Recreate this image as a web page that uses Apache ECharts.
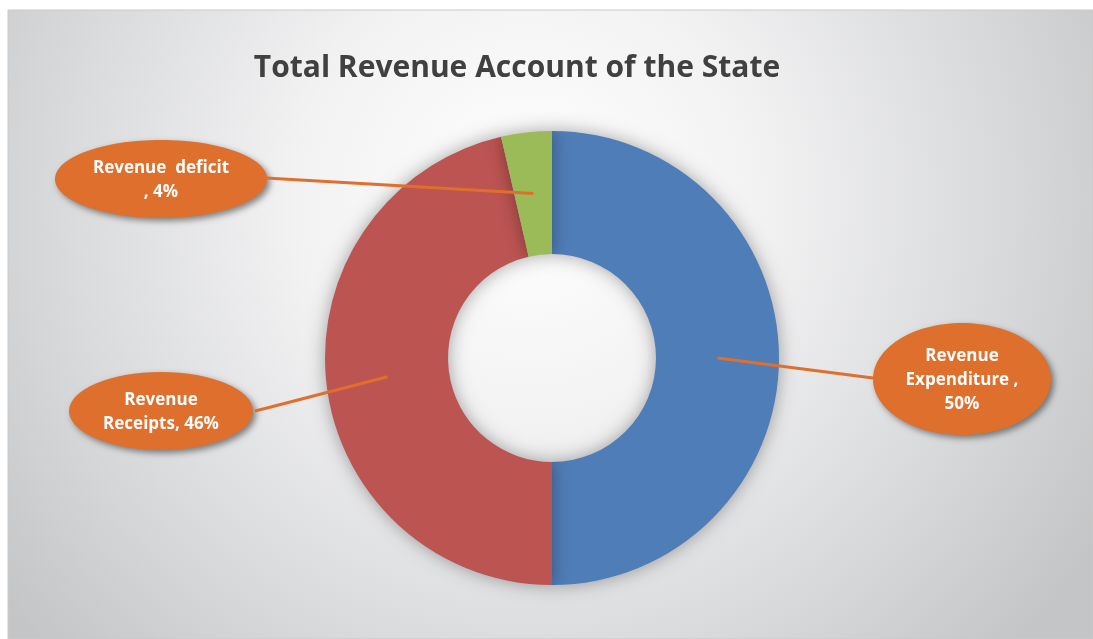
<!DOCTYPE html>
<html>
<head>
<meta charset="utf-8">
<script src="https://cdn.jsdelivr.net/npm/echarts@6/dist/echarts.min.js"></script>
<style>
html,body{margin:0;padding:0;background:#ffffff;}
#chart{width:1093px;height:639px;}
</style>
</head>
<body>
<div id="chart"></div>
<script>
// ---- data ----
const categories = ['Revenue Expenditure', 'Revenue Receipts', 'Revenue deficit'];
const values = [50, 46.4, 3.6];
const labelTemplates = ['Revenue\nExpenditure ,\n{p}%', 'Revenue\nReceipts, {p}%', 'Revenue  deficit\n, {p}%'];
const colors = ['#4f7db7', '#bc5452', '#9bbb59'];
const titleText = 'Total Revenue Account of the State';

// ---- layout ----
const CX = 552, CY = 358, R_IN = 104, R_OUT = 227;
const bubbles = [
  { cx: 962, cy: 379, rx: 89, ry: 56, line: [[873, 378]] },
  { cx: 161, cy: 411, rx: 92, ry: 39, line: [[267, 408], [255, 411]] },
  { cx: 161, cy: 179, rx: 106, ry: 39, line: [[266, 178]] }
];
const ORANGE = '#df6f2c';

const chart = echarts.init(document.getElementById('chart'), null, { renderer: 'canvas' });

const graphics = [
  {
    type: 'rect', z: -10, silent: true,
    shape: { x: 8, y: 10, width: 1085, height: 629 },
    style: {
      fill: {
        type: 'radial', x: 0.48, y: 0.3, r: 1.05,
        colorStops: [
          { offset: 0, color: '#ffffff' },
          { offset: 0.35, color: '#f2f2f3' },
          { offset: 0.75, color: '#d6d7d9' },
          { offset: 1, color: '#c4c5c7' }
        ]
      },
      stroke: '#c9c9c9', lineWidth: 1
    }
  }
];
bubbles.forEach(b => {
  graphics.push({
    type: 'ellipse', z: 1, silent: true,
    shape: { cx: b.cx, cy: b.cy, rx: b.rx, ry: b.ry },
    style: {
      fill: ORANGE,
      shadowColor: 'rgba(0,0,0,0.45)', shadowBlur: 6, shadowOffsetX: 3, shadowOffsetY: 3
    }
  });
});

// leader lines: start at the middle of each slice (mid angle, mid radius), drawn above the donut
const total = values.reduce((a, b) => a + b, 0);
let cum = 0;
values.forEach((v, i) => {
  const midFrac = (cum + v / 2) / total;
  cum += v;
  const a = Math.PI / 2 - midFrac * 2 * Math.PI; // clockwise from 12 o'clock
  const rm = (R_IN + R_OUT) / 2;
  const start = [CX + rm * Math.cos(a), CY - rm * Math.sin(a)];
  graphics.push({
    type: 'polyline', z: 20, silent: true,
    shape: { points: [start].concat(bubbles[i].line) },
    style: { stroke: ORANGE, lineWidth: 3, fill: null }
  });
});

const pieData = categories.map((c, i) => ({ name: c, value: values[i], itemStyle: { color: colors[i] } }));

chart.setOption({
  animation: false,
  title: {
    text: titleText,
    left: 512, top: 48, textAlign: 'center',
    textStyle: { fontFamily: 'Open Sans', fontWeight: 'bold', fontSize: 30, color: '#404040' }
  },
  graphic: graphics,
  series: [{
    type: 'pie',
    center: [CX, CY],
    radius: [R_IN, R_OUT],
    startAngle: 90,
    clockwise: true,
    z: 3,
    data: pieData,
    itemStyle: { shadowColor: 'rgba(0,0,0,0.35)', shadowBlur: 18 },
    emphasis: { disabled: true },
    label: {
      show: true,
      position: 'outside',
      color: '#ffffff',
      fontFamily: 'Open Sans',
      fontWeight: 'bold',
      fontSize: 17,
      lineHeight: 24,
      formatter: p => labelTemplates[p.dataIndex].replace('{p}', Math.round(p.percent))
    },
    labelLine: { show: false },
    labelLayout: function (params) {
      const b = bubbles[params.dataIndex];
      return { x: b.cx, y: b.cy + 1, align: 'center', verticalAlign: 'middle' };
    }
  }]
});
</script>
</body>
</html>
